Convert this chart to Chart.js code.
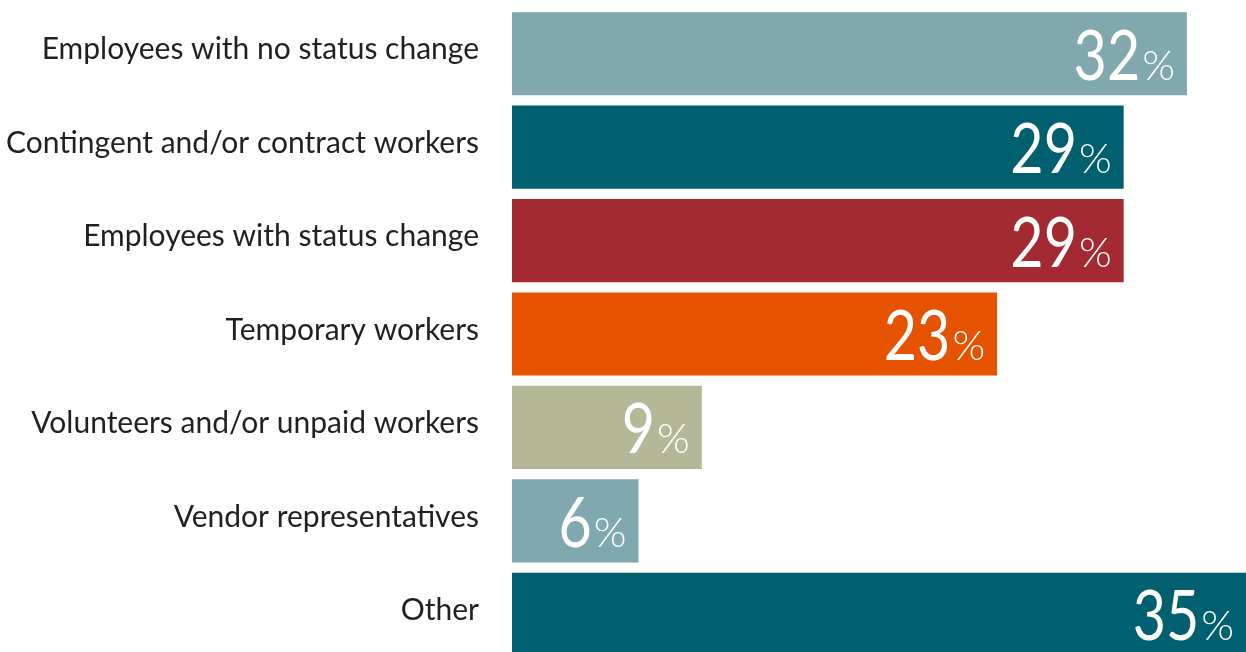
<!DOCTYPE html>
<html>
<head>
<meta charset="utf-8">
<script src="https://cdn.jsdelivr.net/npm/chart.js@4"></script>
<style>
  html, body { margin: 0; padding: 0; background: #fff; overflow: hidden; }
  #wrap { position: relative; width: 1246px; height: 667px; }
</style>
</head>
<body>
<div id="wrap"><canvas id="myChart"></canvas></div>
<script>
const categories = [
  'Employees with no status change',
  'Contingent and/or contract workers',
  'Employees with status change',
  'Temporary workers',
  'Volunteers and/or unpaid workers',
  'Vendor representatives',
  'Other'
]
const values = [32, 29, 29, 23, 9, 6, 35]
const barColors = ['#80a8ae', '#00606f', '#a32a31', '#e65300', '#b4b896', '#80a8b0', '#00606f']

// big number + small % drawn inside the end of each bar
const valueLabels = {
  id: 'valueLabels',
  afterDatasetsDraw(chart) {
    const ctx = chart.ctx
    const meta = chart.getDatasetMeta(0)
    const sx = 0.82
    ctx.save()
    ctx.fillStyle = '#fff'
    ctx.textBaseline = 'alphabetic'
    ctx.textAlign = 'left'
    meta.data.forEach((bar, i) => {
      const right = Math.min(bar.x, chart.chartArea.right) - 12
      const base = bar.y + 26
      ctx.font = '300 42px Lato'
      const pw = ctx.measureText('%').width
      ctx.fillText('%', right - pw, base)
      ctx.font = '400 70px Lato'
      const nw = ctx.measureText(String(values[i])).width * sx
      ctx.save()
      ctx.translate(right - pw - 2 - nw, base)
      ctx.scale(sx, 1)
      ctx.fillText(String(values[i]), 0, 0)
      ctx.restore()
    })
    ctx.restore()
  }
}

var ctx = document.getElementById('myChart').getContext('2d');
var chart = new Chart(ctx, {
    type: 'bar',
    data: {
        labels: categories,
        datasets: [{
            data: values,
            backgroundColor: barColors,
            borderWidth: 0,
            categoryPercentage: 0.89,
            barPercentage: 1
        }]
    },
    options: {
        indexAxis: 'y',
        responsive: true,
        maintainAspectRatio: false,
        animation: false,
        layout: { padding: { top: 7, left: 0, right: 0, bottom: 0 } },
        plugins: {
            legend: { display: false },
            tooltip: { enabled: false }
        },
        scales: {
            x: {
                min: 0,
                max: 34.8,
                display: false,
                grid: { display: false }
            },
            y: {
                grid: { display: false, drawTicks: true, tickLength: 33 },
                border: { display: false },
                ticks: {
                    color: '#231f20',
                    padding: 0,
                    labelOffset: -4,
                    font: { family: 'Lato', size: 30, lineHeight: 0.4 }
                },
                afterFit(scale) { scale.width = 512 }
            }
        }
    },
    plugins: [valueLabels]
});
</script>
</body>
</html>
